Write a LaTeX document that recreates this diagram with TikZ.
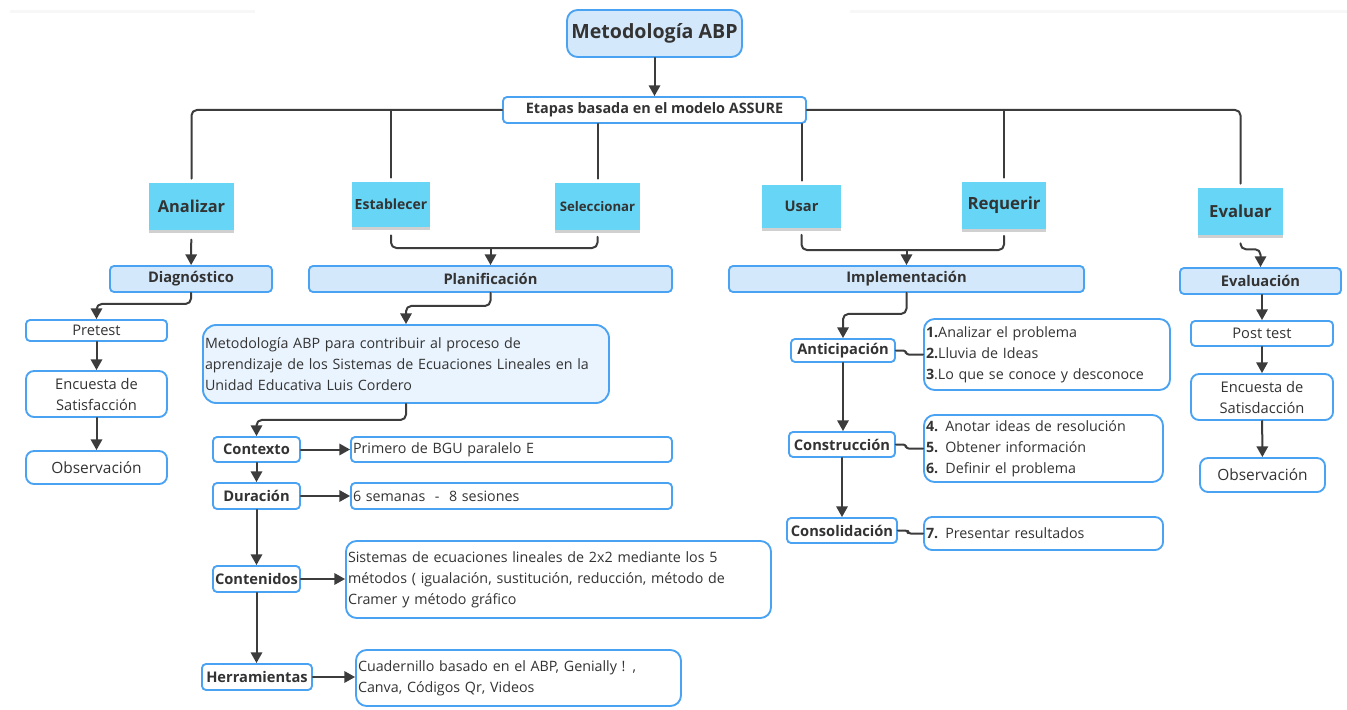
\documentclass[tikz,border=0pt]{standalone}
\usepackage{fontspec}
\setmainfont{Open Sans}
\usepackage{tikz}
\usetikzlibrary{arrows.meta,shadows}
\definecolor{bordeazul}{HTML}{4AA3F2}
\definecolor{azulclaro}{HTML}{D4E8FB}
\definecolor{azulpalido}{HTML}{EAF4FE}
\definecolor{cyannota}{HTML}{67D6F6}
\definecolor{gris}{HTML}{3C3C3C}
\definecolor{textogris}{HTML}{333333}
\begin{document}
\begin{tikzpicture}[x=0.75pt,y=-0.75pt,line cap=round,line join=round,>={Triangle[length=8pt,width=8.5pt]},
tam/.style 2 args={minimum width=#1*0.75pt,minimum height=#2*0.75pt},
caja/.style={draw=bordeazul,line width=1.4pt,rounded corners=3pt,fill=white,inner sep=0pt,text=textogris},
cabeza/.style={caja,fill=azulclaro,font=\bfseries\fontsize{11}{13}\selectfont},
etiqueta/.style={caja,font=\bfseries\fontsize{11}{13}\selectfont},
texto/.style={caja,font=\fontsize{10.7}{15.75}\selectfont,align=left},
centro/.style={caja,font=\fontsize{11}{15.75}\selectfont,align=center},
nota/.style={fill=cyannota,inner sep=0pt,text=textogris,drop shadow={shadow xshift=0pt,shadow yshift=-2.5pt,opacity=0.3,fill=black!60}},
linea/.style={draw=gris,line width=1.5pt,rounded corners=4pt},
flecha/.style={linea,->}]

\fill[white] (0,0) rectangle (1347,710);
\useasboundingbox (0,0) rectangle (1347,710);
\fill[gray!6] (10,10) rectangle (255,13);
\fill[gray!6] (850,10) rectangle (1347,13);

\node[cabeza,tam={175}{47},rounded corners=8pt,font=\bfseries\fontsize{14.7}{16}\selectfont] (titulo) at (654.5,33.5) {Metodología ABP};
\node[etiqueta,tam={303}{26},font=\bfseries\fontsize{10.8}{13}\selectfont] (etapas) at (654.5,110) {Etapas basada en el modelo ASSURE};

\node[nota,tam={85}{47},font=\bfseries\fontsize{12.3}{14}\selectfont] (analizar) at (191.5,206.5) {Analizar};
\node[nota,tam={78}{45},font=\bfseries\fontsize{10.5}{12}\selectfont] (establecer) at (391,204.5) {Establecer};
\node[nota,tam={85}{47},font=\bfseries\fontsize{9.9}{12}\selectfont] (seleccionar) at (597.5,206.5) {Seleccionar};
\node[nota,tam={79}{43},font=\bfseries\fontsize{11}{13}\selectfont] (usar) at (801.5,206.5) {Usar};
\node[nota,tam={84}{47},font=\bfseries\fontsize{12.6}{14}\selectfont] (requerir) at (1004,205.5) {Requerir};
\node[nota,tam={85}{47},font=\bfseries\fontsize{12.5}{14}\selectfont] (evaluar) at (1240.5,211.5) {Evaluar};

\node[cabeza,tam={162}{26}] (diagnostico) at (191,279) {Diagnóstico};
\node[cabeza,tam={363}{26}] (planificacion) at (490.5,279) {Planificación};
\node[cabeza,tam={355}{26}] (implementacion) at (906.5,279) {Implementación};
\node[cabeza,tam={161}{26}] (evaluacion) at (1260.5,281) {Evaluación};

\node[centro,tam={141}{21}] (pretest) at (96.5,330.5) {Pretest};
\node[centro,tam={141}{46},rounded corners=6pt] (encuesta) at (96.5,394) {Encuesta de\\Satisfacción};
\node[centro,tam={141}{33},rounded corners=6pt,font=\fontsize{11.6}{14}\selectfont] (observacion) at (96.5,467.5) {Observación};

\node[texto,tam={406}{78},fill=azulpalido,rounded corners=10pt,text width=301.5pt] (metodo) at (406,364) {Metodología ABP para contribuir al proceso de\\aprendizaje de los Sistemas de Ecuaciones Lineales en la\\Unidad Educativa Luis Cordero};
\node[etiqueta,tam={87}{25}] (contexto) at (256.5,449.5) {Contexto};
\node[texto,tam={321}{25},text width=237.75pt] (primero) at (511.5,449.5) {Primero de BGU paralelo E};
\node[etiqueta,tam={87}{26}] (duracion) at (256.5,496) {Duración};
\node[texto,tam={321}{26},text width=237.75pt] (semanas) at (511.5,496) {6 semanas \ - \ 8 sesiones};
\node[etiqueta,tam={87}{26}] (contenidos) at (256.5,579) {Contenidos};
\node[texto,tam={425}{77},rounded corners=8pt,text width=315.75pt] (sistemas) at (558.5,579.5) {Sistemas de ecuaciones lineales de 2x2 mediante los 5\\métodos ( igualación, sustitución, reducción, método de\\Cramer y método gráfico};
\node[etiqueta,tam={110}{26}] (herramientas) at (257,677) {Herramientas};
\node[texto,tam={325}{56},rounded corners=8pt,text width=240.75pt] (cuadernillo) at (518.5,678) {Cuadernillo basado en el ABP, Genially ! ,\\Canva, Códigos Qr, Videos};

\node[etiqueta,tam={104}{23}] (anticipacion) at (843,350.5) {Anticipación};
\node[texto,tam={246}{71},rounded corners=8pt,text width=181.5pt] (lista1) at (1047,354.5) {\textbf{1.}Analizar el problema\\\textbf{2.}Lluvia de Ideas\\\textbf{3}.Lo que se conoce y desconoce};
\node[etiqueta,tam={106}{25}] (construccion) at (842,444.5) {Construcción};
\node[texto,tam={239}{67},rounded corners=8pt,text width=176.25pt] (lista2) at (1043.5,448.5) {\textbf{4.} Anotar ideas de resolución\\\textbf{5.} Obtener información\\\textbf{6.} Definir el problema};
\node[etiqueta,tam={110}{25}] (consolidacion) at (842,530.5) {Consolidación};
\node[texto,tam={239}{33},rounded corners=6pt,text width=176.25pt] (lista3) at (1043.5,533.5) {\textbf{7.} Presentar resultados};

\node[centro,tam={142}{25}] (posttest) at (1262,333.5) {Post test};
\node[centro,tam={142}{46},rounded corners=6pt] (encuesta2) at (1262,397) {Encuesta de\\Satisdacción};
\node[centro,tam={125}{34},rounded corners=6pt,font=\fontsize{11.6}{14}\selectfont] (observacion2) at (1262.5,475) {Observación};

\coordinate (unionPlan) at (490.5,248);
\coordinate (unionImpl) at (906.5,250);

\draw[flecha] (titulo) -- (etapas);
\draw[linea,shorten >=3pt] (etapas.west) -| (analizar.north);
\draw[linea,shorten >=3pt] (etapas.west -| establecer.north) -- (establecer.north);
\draw[linea,shorten >=3pt] (etapas.south -| seleccionar.north) -- (seleccionar.north);
\draw[linea,shorten >=3pt] (etapas.south -| usar.north) -- (usar.north);
\draw[linea,shorten >=3pt] (etapas.east -| requerir.north) -- (requerir.north);
\draw[linea,shorten >=3pt] (etapas.east) -| (evaluar.north);

\draw[flecha,shorten <=7pt] (analizar) -- (diagnostico);
\draw[linea,shorten <=6pt,shorten >=5pt] (establecer.south) |- (unionPlan) -| (seleccionar.south);
\draw[flecha] (unionPlan) -- (planificacion);
\draw[linea,shorten <=5pt,shorten >=5pt] (usar.south) |- (unionImpl) -| (requerir.south);
\draw[flecha] (unionImpl) -- (implementacion);
\draw[flecha,shorten <=6pt] (evaluar.south) -- ++(0,14) -| (evaluacion.north);

\draw[flecha] (diagnostico.south) -- ++(0,11) -| (pretest.north);
\draw[flecha] (pretest) -- (encuesta);
\draw[flecha] (encuesta) -- (observacion);

\draw[flecha] (planificacion.south) -- ++(0,13) -| (metodo.north);
\draw[flecha] (metodo.south) -- ++(0,16) -| (contexto.north);
\draw[flecha] (contexto) -- (primero);
\draw[flecha] (contexto) -- (duracion);
\draw[flecha] (duracion) -- (semanas);
\draw[flecha] (duracion) -- (contenidos);
\draw[flecha] (contenidos.east) -- (contenidos.east -| sistemas.west);
\draw[flecha] (contenidos.south) -- (contenidos.south |- herramientas.north);
\draw[flecha] (herramientas.east) -- (herramientas.east -| cuadernillo.west);

\draw[flecha] (implementacion.south) -- ++(0,21) -| (anticipacion.north);
\draw[linea,rounded corners=2pt] (anticipacion.east) -- ++(10,0) |- (lista1.west);
\draw[flecha] (anticipacion.south) -- (anticipacion.south |- construccion.north);
\draw[linea,rounded corners=2pt] (construccion.east) -- ++(10,0) |- (lista2.west);
\draw[flecha] (construccion.south) -- (construccion.south |- consolidacion.north);
\draw[linea,rounded corners=2pt] (consolidacion.east) -- ++(10,0) |- (lista3.west);

\draw[flecha] (posttest.north |- evaluacion.south) -- (posttest.north);
\draw[flecha] (posttest) -- (encuesta2);
\draw[flecha] (encuesta2) -- (observacion2);
\end{tikzpicture}
\end{document}
